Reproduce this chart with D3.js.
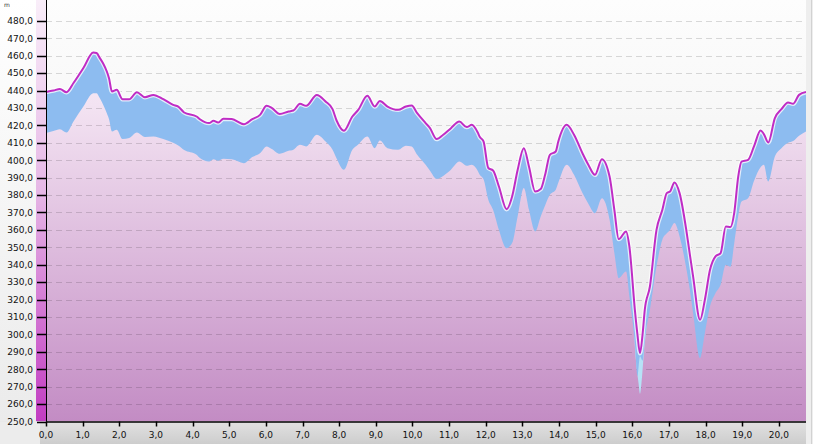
<!DOCTYPE html>
<html><head><meta charset="utf-8">
<script src="https://cdn.jsdelivr.net/npm/d3@7"></script>
<style>html,body{margin:0;padding:0;background:#fff;}svg{display:block;}</style>
</head><body>
<svg id="chart" width="813" height="444"></svg>
<script>
// ---- data ----
const dist = [0.00,0.20,0.38,0.56,0.75,1.02,1.29,1.38,1.47,1.56,1.66,1.72,1.80,1.93,2.09,2.27,2.48,2.70,2.93,3.20,3.47,3.61,3.77,4.11,4.20,4.45,4.57,4.70,4.84,5.07,5.40,5.63,5.84,6.02,6.16,6.38,6.62,6.75,6.93,7.10,7.39,7.63,7.82,7.93,8.13,8.36,8.52,8.77,8.97,9.11,9.32,9.61,9.82,9.98,10.13,10.36,10.48,10.66,10.84,11.05,11.28,11.48,11.62,11.78,11.84,11.94,12.07,12.20,12.36,12.57,12.72,12.87,13.04,13.18,13.35,13.50,13.62,13.75,13.91,13.98,14.21,14.41,14.64,14.80,14.98,15.17,15.38,15.51,15.63,15.83,15.92,16.07,16.14,16.21,16.28,16.34,16.48,16.66,16.82,16.94,17.03,17.15,17.29,17.48,17.57,17.66,17.85,17.98,18.12,18.27,18.41,18.55,18.68,18.78,18.89,18.98,19.16,19.32,19.50,19.59,19.71,19.89,20.07,20.25,20.39,20.55,20.74];
const elevation = [439.2,440.0,440.9,439.0,444.3,452.9,461.8,461.5,458.6,455.5,450.9,447.0,439.4,440.4,435.0,435.0,439.0,436.2,437.5,435.0,431.8,430.8,427.4,425.1,423.5,421.3,422.6,421.6,423.8,423.6,420.7,423.6,426.0,431.2,430.0,426.5,428.0,428.5,432.4,431.2,437.5,433.7,429.3,422.8,416.9,425.1,428.9,437.0,430.8,434.0,430.8,428.9,430.8,431.4,427.0,421.3,418.4,412.1,414.6,418.4,422.2,419.0,420.3,416.0,413.3,410.8,395.5,394.1,384.9,371.9,379.2,394.4,406.9,396.4,382.0,383.4,391.6,403.1,405.0,410.7,420.3,414.6,404.0,397.4,391.6,400.6,390.6,371.5,354.7,359.1,350.5,314.1,300.0,289.2,300.0,314.1,327.5,360.0,371.5,381.1,382.0,387.2,381.1,359.0,346.0,333.2,308.4,319.9,337.1,344.8,346.7,361.9,361.6,369.6,390.6,399.2,400.2,407.9,417.0,415.0,410.2,424.2,429.3,433.1,432.4,437.5,439.1];
const lowerBand = [415.6,416.8,417.8,415.9,422.2,430.8,438.5,438.5,435.5,431.8,427.0,423.5,416.5,417.5,412.1,412.7,415.9,413.3,413.6,412.1,410.0,408.5,405.9,403.1,401.2,399.2,400.6,399.7,400.8,400.5,398.3,401.8,404.0,407.9,406.5,403.7,405.4,406.0,408.8,407.9,414.6,410.7,406.0,401.0,394.5,406.0,409.0,413.6,406.9,411.3,406.9,406.0,408.3,407.9,403.1,397.4,394.0,389.3,391.0,394.5,399.2,396.8,397.4,394.0,391.5,389.1,377.3,371.5,360.0,349.5,352.4,367.7,384.0,371.5,359.1,367.7,374.0,380.1,383.0,387.0,397.4,391.6,381.1,375.0,369.6,378.2,365.8,346.7,332.3,336.1,321.8,295.0,276.0,287.5,285.0,297.0,314.1,339.0,354.3,358.0,360.0,363.9,356.2,337.1,325.6,312.2,286.4,300.7,316.0,323.6,328.5,339.9,338.9,352.0,368.0,376.3,378.2,388.0,396.0,397.4,387.8,402.1,406.9,410.0,411.0,414.0,416.5];
const cyanDist = [16.00,16.10,16.17,16.21,16.25,16.32,16.42];
const cyanTop  = [332,307,294,289,294,310,322];
const cyanLow  = [320,285,272,266,272,290,310];
const yTicks = [250,260,270,280,290,300,310,320,330,340,350,360,370,380,390,400,410,420,430,440,450,460,470,480];
const xTicks = [0,1,2,3,4,5,6,7,8,9,10,11,12,13,14,15,16,17,18,19,20];
const yUnit = "m";

// ---- layout ----
const W = 813, H = 444;
const pL = 46, pR = 806, pT = 0, pB = 421.5;
const svg = d3.select("#chart");
const x = d3.scaleLinear().domain([0, 20.74]).range([pL, pR]);
const y = d3.scaleLinear().domain([250, 250 + (pB - pT) / 1.742]).range([pB, pT]);
const fmt = v => d3.format(".1f")(v).replace(".", ",");
const font = "DejaVu Sans, Verdana, sans-serif";

const defs = svg.append("defs");
function vgrad(id, stops, y1, y2) {
  const g = defs.append("linearGradient").attr("id", id).attr("gradientUnits", "userSpaceOnUse")
    .attr("x1", 0).attr("x2", 0).attr("y1", y1).attr("y2", y2);
  stops.forEach(s => g.append("stop").attr("offset", s[0]).attr("stop-color", s[1]));
}
vgrad("bgG", [[0, "#ffffff"], [1, "#ebebeb"]], 0, 421);
vgrad("plotG", [[0, "#fdfdfd"], [1, "#e8e8e8"]], 0, 421);
vgrad("pinkG", [[0, "#fbf4fb"], [0.25, "#f3e3f2"], [1, "#c38cc4"]], 0, 421);
vgrad("stripG", [[0, "#f9eef9"], [0.45, "#e6b8e6"], [1, "#c23cc2"]], 0, 421);
vgrad("axisG", [[0, "#e2e2e2"], [1, "#cdcdcd"]], 421, 444);
defs.append("clipPath").attr("id", "clip").append("rect")
  .attr("x", pL).attr("y", pT).attr("width", pR - pL).attr("height", pB - pT);

// backgrounds
svg.append("rect").attr("width", W).attr("height", H).attr("fill", "url(#bgG)");
svg.append("rect").attr("x", pL).attr("y", pT).attr("width", pR - pL).attr("height", pB - pT).attr("fill", "url(#plotG)");
svg.append("rect").attr("x", 36).attr("y", pT).attr("width", pL - 36).attr("height", pB - pT).attr("fill", "url(#stripG)");
svg.append("rect").attr("x", 0).attr("y", pB).attr("width", W).attr("height", H - pB).attr("fill", "url(#axisG)");
svg.append("rect").attr("x", 0).attr("y", pB).attr("width", 40).attr("height", H - pB).attr("fill", "#ececec");
svg.append("rect").attr("x", pR).attr("y", 0).attr("width", W - pR).attr("height", H).attr("fill", "#eeeeee");
svg.append("line").attr("x1", 811.5).attr("x2", 811.5).attr("y1", 0).attr("y2", H).attr("stroke", "#d2d2d2");

const pts = dist.map((d, i) => ({ d, e: elevation[i], l: lowerBand[i] }));
const cpts = cyanDist.map((d, i) => ({ d, t: cyanTop[i], l: cyanLow[i] }));
const g = svg.append("g").attr("clip-path", "url(#clip)");
const curve = d3.curveMonotoneX;

// pink terrain fill
g.append("path").datum(pts)
  .attr("d", d3.area().curve(curve).x(p => x(p.d)).y0(pB).y1(p => y(p.e)))
  .attr("fill", "url(#pinkG)");

// grid
g.selectAll("line.grid").data(yTicks.filter(v => v > 250)).join("line")
  .attr("x1", pL).attr("x2", pR)
  .attr("y1", v => Math.round(y(v)) + 0.5).attr("y2", v => Math.round(y(v)) + 0.5)
  .attr("stroke", "rgba(0,0,0,0.14)").attr("stroke-dasharray", "6,4");

// cyan zone
g.append("path").datum(cpts)
  .attr("d", d3.area().curve(d3.curveCatmullRom).x(p => x(p.d)).y0(p => y(p.l)).y1(p => y(p.t)))
  .attr("fill", "#b6e2f6");

// blue band
g.append("path").datum(pts)
  .attr("d", d3.area().curve(curve).x(p => x(p.d)).y0(p => y(p.l)).y1(p => y(p.e)))
  .attr("fill", "#8dbcf0");

// line
const ln = d3.line().curve(curve).x(p => x(p.d)).y(p => y(p.e));
g.append("path").datum(pts).attr("d", ln).attr("fill", "none")
  .attr("stroke", "rgba(255,255,255,0.75)").attr("stroke-width", 4.5);
g.append("path").datum(pts).attr("d", ln).attr("fill", "none")
  .attr("stroke", "#c02cc4").attr("stroke-width", 2);

// y axis
const ya = svg.append("g");
ya.append("line").attr("x1", pL + 0.5).attr("x2", pL + 0.5).attr("y1", 0).attr("y2", pB).attr("stroke", "#000");
ya.selectAll("line.t").data(yTicks).join("line")
  .attr("x1", 37).attr("x2", pL)
  .attr("y1", v => Math.round(y(v)) + 0.5).attr("y2", v => Math.round(y(v)) + 0.5)
  .attr("stroke", "#000").attr("stroke-width", 1.5);
ya.selectAll("text").data(yTicks).join("text")
  .attr("x", 33).attr("y", v => y(v) + 3.3).attr("text-anchor", "end")
  .attr("font-family", font).attr("font-size", 9).attr("fill", "#111")
  .text(fmt);
svg.append("text").attr("x", 4).attr("y", 7).attr("font-family", font).attr("font-size", 6).attr("fill", "#333").text(yUnit);

// x axis
const xa = svg.append("g");
xa.append("line").attr("x1", pL).attr("x2", pR).attr("y1", pB + 0.5).attr("y2", pB + 0.5).attr("stroke", "#000").attr("stroke-width", 1.5);
xa.selectAll("line.t").data(xTicks).join("line")
  .attr("x1", v => Math.round(x(v)) + 0.5).attr("x2", v => Math.round(x(v)) + 0.5)
  .attr("y1", pB).attr("y2", pB + 5)
  .attr("stroke", "#000").attr("stroke-width", 1.5);
xa.selectAll("text").data(xTicks).join("text")
  .attr("x", v => x(v)).attr("y", 438).attr("text-anchor", "middle")
  .attr("font-family", font).attr("font-size", 9).attr("fill", "#111")
  .text(fmt);
</script>
</body></html>
